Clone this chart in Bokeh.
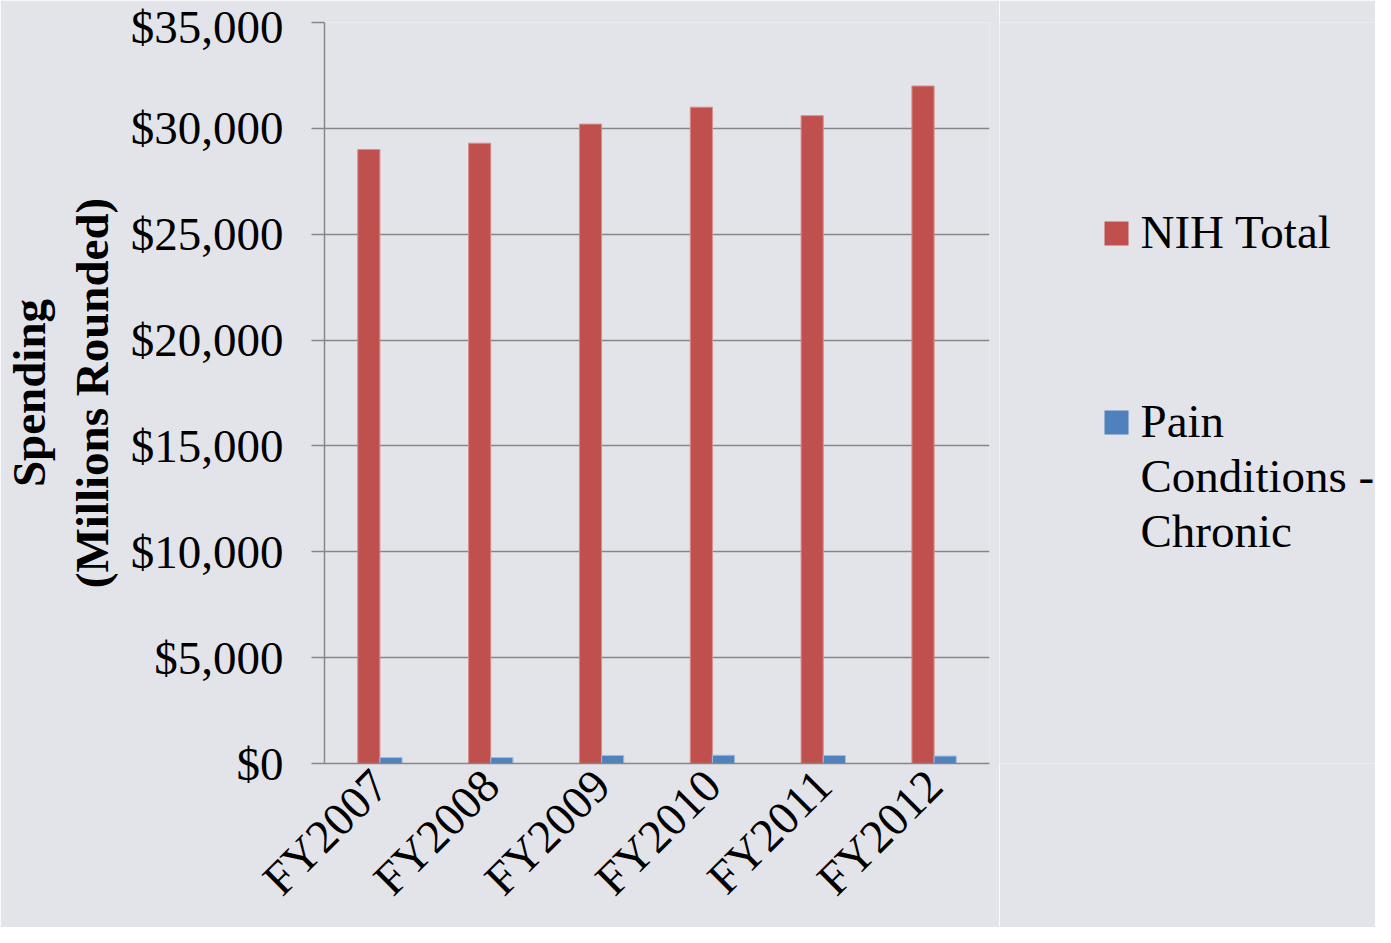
import math
from bokeh.plotting import figure
from bokeh.layouts import row
from bokeh.models import FactorRange, Range1d, NumeralTickFormatter, SingleIntervalTicker
from bokeh.core.properties import value
from bokeh.transform import dodge
from bokeh.embed import file_html
from bokeh.resources import INLINE

years = ["FY2007", "FY2008", "FY2009", "FY2010", "FY2011", "FY2012"]
nih_total = [29000, 29300, 30200, 31000, 30600, 32000]
pain_chronic = [280, 280, 380, 390, 380, 350]
series_names = ["NIH Total", "Pain Conditions - Chronic"]
series_colors = ["#C0504D", "#4F81BD"]
legend_lines = [["NIH Total"], ["Pain", "Conditions -", "Chronic"]]

FONT = "Liberation Serif"
FS = "47px"
GRID = "#868686"
BG = "#e3e4ea"

W_MAIN, W_LEG, H = 999, 376, 927
TOP, BOTTOM = 22, 164

p = figure(x_range=FactorRange(factors=years, range_padding=0),
           y_range=Range1d(0, 35000),
           width=W_MAIN, height=H, output_backend="svg", toolbar_location=None,
           min_border_left=310, min_border_top=TOP, min_border_right=10, min_border_bottom=BOTTOM)
p.background_fill_color = BG
p.border_fill_color = BG
p.outline_line_color = None

data = dict(x=years, nih=nih_total, pain=pain_chronic)
p.vbar(x=dodge("x", -0.1, range=p.x_range), top="nih", width=0.2, source=data,
       fill_color=series_colors[0], line_color="#d98e8c", line_width=1)
p.vbar(x=dodge("x", 0.1, range=p.x_range), top="pain", width=0.2, source=data,
       fill_color=series_colors[1], line_color="#9dbbe0", line_width=1)

p.yaxis.ticker = SingleIntervalTicker(interval=5000)
p.yaxis.formatter = NumeralTickFormatter(format="$0,0")
p.yaxis.major_label_text_font = FONT
p.yaxis.major_label_text_font_size = FS
p.yaxis.major_label_text_color = "black"
p.yaxis.major_label_standoff = 28
p.yaxis.major_tick_out = 13
p.yaxis.major_tick_in = 0
p.yaxis.minor_tick_out = 0
p.yaxis.minor_tick_in = 0
p.yaxis.axis_line_color = GRID
p.yaxis.axis_line_width = 1.5
p.yaxis.major_tick_line_color = GRID
p.yaxis.major_tick_line_width = 1.5
p.yaxis.axis_label = "Spending\n(Millions Rounded)"
p.yaxis.axis_label_text_font = FONT
p.yaxis.axis_label_text_font_size = FS
p.yaxis.axis_label_text_font_style = "bold"
p.yaxis.axis_label_text_color = "black"
p.yaxis.axis_label_standoff = 10

p.xaxis.major_label_orientation = math.pi / 4
p.xaxis.major_label_text_font = FONT
p.xaxis.major_label_text_font_size = FS
p.xaxis.major_label_text_color = "black"
p.xaxis.major_label_standoff = 14
p.xaxis.major_tick_out = 0
p.xaxis.major_tick_in = 0
p.xaxis.axis_line_color = GRID
p.xaxis.axis_line_width = 1.5

p.xgrid.grid_line_color = None
p.ygrid.grid_line_color = GRID
p.ygrid.grid_line_width = 1.5

# ---- legend panel: data coordinates equal canvas pixels (y downward) ----
leg = figure(width=W_LEG, height=H, x_range=Range1d(0, W_LEG), y_range=Range1d(H - BOTTOM, TOP),
             x_axis_type=None, y_axis_type=None, output_backend="svg", toolbar_location=None,
             min_border_left=0, min_border_right=0, min_border_top=TOP, min_border_bottom=BOTTOM)
leg.background_fill_color = BG
leg.border_fill_color = BG
leg.outline_line_color = None
leg.grid.grid_line_color = None

sq_x = 117
sq_size = 24
txt_x = 141
item_square_y = [233, 422]
line_pitch = 55
text_offset = -2   # text anchor relative to square centre

sq_ys, tx, ty, tt = [], [], [], []
for sy, lines in zip(item_square_y, legend_lines):
    sq_ys.append(sy)
    for i, line in enumerate(lines):
        tx.append(txt_x)
        ty.append(sy + text_offset + i * line_pitch)
        tt.append(line)

leg.rect(x=[sq_x] * len(sq_ys), y=sq_ys, width=sq_size, height=sq_size,
         fill_color=series_colors, line_color=None)
leg.text(x=tx, y=ty, text=tt, text_font=value(FONT), text_font_size=FS,
         text_color="black", text_baseline="middle", text_align="left")

layout = row(p, leg, spacing=0)
open("out.html", "w").write(file_html(layout, INLINE))
